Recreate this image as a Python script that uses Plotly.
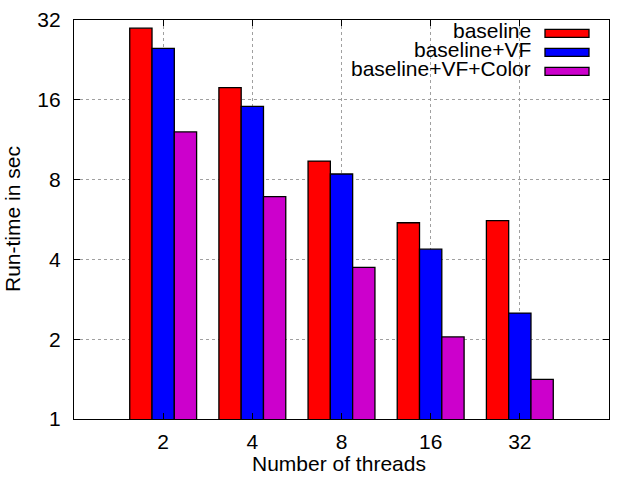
import plotly.graph_objects as go

threads = ["2", "4", "8", "16", "32"]
series_names = ["baseline", "baseline+VF", "baseline+VF+Color"]
baseline = [29.8, 17.8, 9.4, 5.5, 5.6]
baseline_vf = [25.0, 15.1, 8.4, 4.37, 2.51]
baseline_vf_color = [12.1, 6.9, 3.73, 2.04, 1.41]
colors = ["#ff0000", "#0000ff", "#cc00cc"]
y_ticks = [1, 2, 4, 8, 16, 32]

FONT = "Liberation Sans, Arial, sans-serif"
FS = 21
W, H = 640, 480
L, R, T, B = 74, 31, 20, 61
PW, PH = W - L - R, H - T - B

def px_x(x):
    return (x - L) / PW

def px_y(y):
    return (H - B - y) / PH

fig = go.Figure()
for name, vals, col in zip(series_names, [baseline, baseline_vf, baseline_vf_color], colors):
    fig.add_trace(go.Bar(
        x=threads, y=vals, name=name,
        marker=dict(color=col, line=dict(color="black", width=1.3)),
        showlegend=False,
    ))

# custom gnuplot-style legend (text right, swatch on the right)
row_y = [33.3, 52.3, 71.3]
for name, col, yc in zip(series_names, colors, row_y):
    fig.add_shape(type="rect", xref="paper", yref="paper",
                  x0=px_x(545), x1=px_x(589), y0=px_y(yc + 4), y1=px_y(yc - 4),
                  fillcolor=col, line=dict(color="black", width=1.3))
    fig.add_annotation(xref="paper", yref="paper", x=px_x(532), y=px_y(yc - 3),
                       text=name, showarrow=False, xanchor="right", yanchor="middle",
                       height=18, valign="middle", borderpad=0,
                       font=dict(family=FONT, size=FS, color="black"))

# axis titles
fig.add_annotation(xref="paper", yref="paper", x=px_x(339), y=px_y(463),
                   text="Number of threads", showarrow=False,
                   xanchor="center", yanchor="middle",
                   font=dict(family=FONT, size=FS, color="black"))
fig.add_annotation(xref="paper", yref="paper", x=px_x(12), y=px_y(219),
                   text="Run-time in sec", showarrow=False, textangle=-90,
                   xanchor="center", yanchor="middle",
                   font=dict(family=FONT, size=FS, color="black"))

fig.update_layout(
    width=W, height=H,
    margin=dict(l=L, r=R, t=T, b=B, autoexpand=False),
    paper_bgcolor="white", plot_bgcolor="white",
    barmode="group", bargap=0.25, bargroupgap=0,
    font=dict(family=FONT, size=FS, color="black"),
)
fig.update_xaxes(
    type="category", range=[-1, 5], automargin=False,
    showline=True, linecolor="black", linewidth=1.3, mirror="ticks",
    ticks="inside", ticklen=6, tickcolor="black",
    showgrid=True, gridcolor="#a0a0a0", griddash="dot", gridwidth=1,
    tickfont=dict(family=FONT, size=FS, color="black"),
    ticklabelstandoff=4,
)
fig.update_yaxes(
    type="log", range=[0, 5 * 0.30103], automargin=False,
    tickvals=y_ticks, ticktext=[str(v) for v in y_ticks],
    showline=True, linecolor="black", linewidth=1.3, mirror="ticks",
    ticks="inside", ticklen=6, tickcolor="black",
    showgrid=True, gridcolor="#a0a0a0", griddash="dot", gridwidth=1,
    tickfont=dict(family=FONT, size=FS, color="black"),
    ticklabelstandoff=8,
)

fig.write_html("out.html", config={"displayModeBar": False},
               post_script="document.body.style.margin='0';")
